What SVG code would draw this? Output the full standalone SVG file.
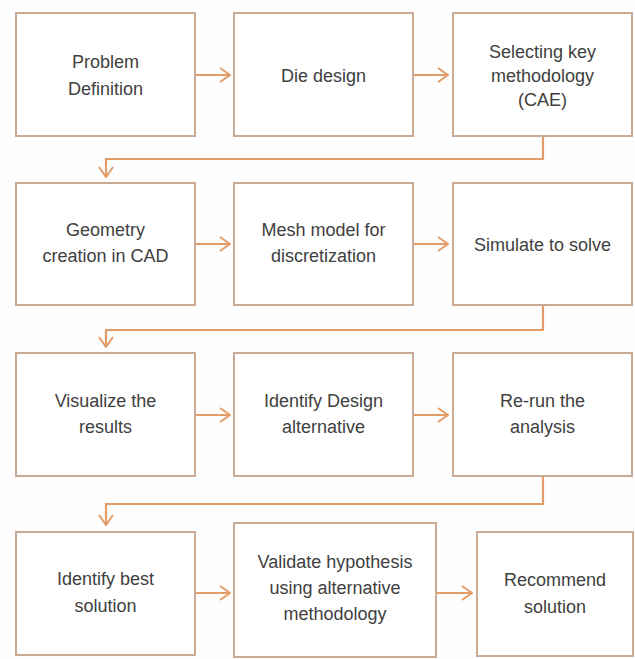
<svg xmlns="http://www.w3.org/2000/svg" width="635" height="659" viewBox="0 0 635 659">
<style>
.box{fill:#ffffff;stroke:#c9ab95;stroke-width:2}
.t{font-family:"Liberation Sans",Arial,sans-serif;font-size:18px;fill:#404040;text-anchor:middle}
.c{fill:none;stroke:#e39c68;stroke-width:2.2}
</style>
<defs>
<marker id="ah" viewBox="0 0 12 16" refX="11" refY="8" markerWidth="12" markerHeight="16" markerUnits="userSpaceOnUse" orient="auto">
<path d="M1,1 L11,8 L1,15" fill="none" stroke="#e39c68" stroke-width="2"/>
</marker>
</defs>
<rect width="635" height="659" fill="#fefefe"/>
<g id="connectors">
<line class="c" x1="195" y1="75" x2="230" y2="75" marker-end="url(#ah)"/>
<line class="c" x1="413" y1="75" x2="448" y2="75" marker-end="url(#ah)"/>
<path class="c" d="M543,136 V159 H106 V177" marker-end="url(#ah)"/>
<line class="c" x1="195" y1="244" x2="230" y2="244" marker-end="url(#ah)"/>
<line class="c" x1="413" y1="244" x2="448" y2="244" marker-end="url(#ah)"/>
<path class="c" d="M543,305 V330 H106 V347" marker-end="url(#ah)"/>
<line class="c" x1="195" y1="415" x2="230" y2="415" marker-end="url(#ah)"/>
<line class="c" x1="413" y1="415" x2="448" y2="415" marker-end="url(#ah)"/>
<path class="c" d="M543,476 V504 H106 V525" marker-end="url(#ah)"/>
<line class="c" x1="195" y1="593" x2="230" y2="593" marker-end="url(#ah)"/>
<line class="c" x1="436" y1="593" x2="472" y2="593" marker-end="url(#ah)"/>
</g>
<g id="n1"><rect class="box" x="16" y="13" width="179" height="123"/><text class="t" x="105.5" y="68">Problem</text><text class="t" x="105.5" y="95">Definition</text></g>
<g id="n2"><rect class="box" x="234" y="13" width="179" height="123"/><text class="t" x="323.5" y="82">Die design</text></g>
<g id="n3"><rect class="box" x="453" y="13" width="179" height="123"/><text class="t" x="542.5" y="58">Selecting key</text><text class="t" x="542.5" y="82">methodology</text><text class="t" x="542.5" y="106">(CAE)</text></g>
<g id="n4"><rect class="box" x="16" y="183" width="179" height="122"/><text class="t" x="105.5" y="236">Geometry</text><text class="t" x="105.5" y="262">creation in CAD</text></g>
<g id="n5"><rect class="box" x="234" y="183" width="179" height="122"/><text class="t" x="323.5" y="236">Mesh model for</text><text class="t" x="323.5" y="262">discretization</text></g>
<g id="n6"><rect class="box" x="453" y="183" width="179" height="122"/><text class="t" x="542.5" y="251">Simulate to solve</text></g>
<g id="n7"><rect class="box" x="16" y="353" width="179" height="123"/><text class="t" x="105.5" y="407">Visualize the</text><text class="t" x="105.5" y="433">results</text></g>
<g id="n8"><rect class="box" x="234" y="353" width="179" height="123"/><text class="t" x="323.5" y="407">Identify Design</text><text class="t" x="323.5" y="433">alternative</text></g>
<g id="n9"><rect class="box" x="453" y="353" width="179" height="123"/><text class="t" x="542.5" y="407">Re-run the</text><text class="t" x="542.5" y="433">analysis</text></g>
<g id="n10"><rect class="box" x="16" y="532" width="179" height="123"/><text class="t" x="105.5" y="585">Identify best</text><text class="t" x="105.5" y="612">solution</text></g>
<g id="n11"><rect class="box" x="234" y="523" width="202" height="134"/><text class="t" x="335" y="568">Validate hypothesis</text><text class="t" x="335" y="594">using alternative</text><text class="t" x="335" y="620">methodology</text></g>
<g id="n12"><rect class="box" x="477" y="532" width="156" height="124"/><text class="t" x="555" y="586">Recommend</text><text class="t" x="555" y="613">solution</text></g>
</svg>
